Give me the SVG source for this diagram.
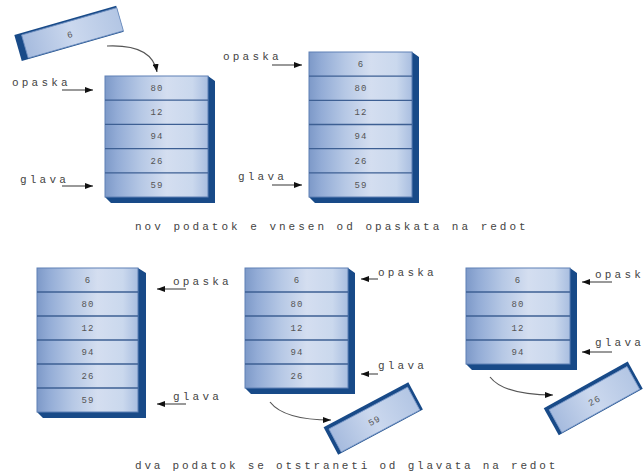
<svg xmlns="http://www.w3.org/2000/svg" width="644" height="472" viewBox="0 0 644 472">
<defs>
<linearGradient id="face" x1="0" y1="0" x2="1" y2="0">
<stop offset="0" stop-color="#7d99c8"/>
<stop offset="0.12" stop-color="#93acd6"/>
<stop offset="0.35" stop-color="#b6c8e5"/>
<stop offset="0.6" stop-color="#d4def0"/>
<stop offset="0.85" stop-color="#cad8ed"/>
<stop offset="1" stop-color="#a9bee0"/>
</linearGradient>
<linearGradient id="tray" x1="0" y1="0" x2="1" y2="0">
<stop offset="0" stop-color="#a6bbde"/>
<stop offset="0.5" stop-color="#cbd8ee"/>
<stop offset="1" stop-color="#b3c6e4"/>
</linearGradient>
<marker id="ah" viewBox="0 0 8 6" refX="8" refY="3" markerWidth="8" markerHeight="6" markerUnits="userSpaceOnUse" orient="auto">
<path d="M0,0 L8,3 L0,6 z" fill="#111"/>
</marker>
<style>
.dark{fill:#184a88}
.front{fill:url(#face);stroke:#5f80b5;stroke-width:1}
.sep{stroke:#3d5f93;stroke-width:1.3}
.num{font-family:"Liberation Mono",monospace;font-size:9px;letter-spacing:1px;fill:#555;text-anchor:middle}
.lbl{font-family:"Liberation Mono",monospace;font-size:11px;letter-spacing:3.2px;fill:#444}
.cap{font-family:"Liberation Mono",monospace;font-size:11px;letter-spacing:3px;fill:#444}
.ar{fill:none;stroke:#555;stroke-width:1.2;marker-end:url(#ah)}
.trim{fill:url(#tray)}
</style>
</defs>
<rect width="644" height="472" fill="#ffffff"/>

<!-- Stack A -->
<g id="stackA">
<polygon class="dark" points="208,76 215,81 215,203 111,203 105,197 208,197"/>
<rect class="front" x="105" y="76" width="103" height="121"/>
<line class="sep" x1="105" y1="100.2" x2="208" y2="100.2"/>
<line class="sep" x1="105" y1="124.4" x2="208" y2="124.4"/>
<line class="sep" x1="105" y1="148.6" x2="208" y2="148.6"/>
<line class="sep" x1="105" y1="172.8" x2="208" y2="172.8"/>
<text class="num" x="157" y="91">80</text>
<text class="num" x="157" y="115">12</text>
<text class="num" x="157" y="139">94</text>
<text class="num" x="157" y="164">26</text>
<text class="num" x="157" y="188">59</text>
</g>

<!-- Incoming tray -->
<g id="trayA" transform="translate(72,33) rotate(-16)">
<rect class="dark" x="-56" y="-14" width="106" height="27"/>
<rect class="trim" x="-49" y="-12" width="99" height="24" stroke="#6f8fc0" stroke-width="0.8"/>
<text class="num" x="-2" y="4">6</text>
</g>

<!-- Stack B -->
<g id="stackB">
<polygon class="dark" points="412,52 419,57 419,203 315,203 309,197 412,197"/>
<rect class="front" x="309" y="52" width="103" height="145"/>
<line class="sep" x1="309" y1="76.2" x2="412" y2="76.2"/>
<line class="sep" x1="309" y1="100.3" x2="412" y2="100.3"/>
<line class="sep" x1="309" y1="124.5" x2="412" y2="124.5"/>
<line class="sep" x1="309" y1="148.7" x2="412" y2="148.7"/>
<line class="sep" x1="309" y1="172.8" x2="412" y2="172.8"/>
<text class="num" x="361" y="67">6</text>
<text class="num" x="361" y="91">80</text>
<text class="num" x="361" y="115">12</text>
<text class="num" x="361" y="139">94</text>
<text class="num" x="361" y="164">26</text>
<text class="num" x="361" y="188">59</text>
</g>

<!-- Stack C -->
<g id="stackC">
<polygon class="dark" points="138,268 146,273 146,418 43,418 37,412 138,412"/>
<rect class="front" x="37" y="268" width="101" height="144"/>
<line class="sep" x1="37" y1="292" x2="138" y2="292"/>
<line class="sep" x1="37" y1="316" x2="138" y2="316"/>
<line class="sep" x1="37" y1="340" x2="138" y2="340"/>
<line class="sep" x1="37" y1="364" x2="138" y2="364"/>
<line class="sep" x1="37" y1="388" x2="138" y2="388"/>
<text class="num" x="88" y="283">6</text>
<text class="num" x="88" y="307">80</text>
<text class="num" x="88" y="331">12</text>
<text class="num" x="88" y="355">94</text>
<text class="num" x="88" y="379">26</text>
<text class="num" x="88" y="403">59</text>
</g>

<!-- Stack D -->
<g id="stackD">
<polygon class="dark" points="348,268 355,273 355,394 251,394 245,388 348,388"/>
<rect class="front" x="245" y="268" width="103" height="120"/>
<line class="sep" x1="245" y1="292" x2="348" y2="292"/>
<line class="sep" x1="245" y1="316" x2="348" y2="316"/>
<line class="sep" x1="245" y1="340" x2="348" y2="340"/>
<line class="sep" x1="245" y1="364" x2="348" y2="364"/>
<text class="num" x="297" y="283">6</text>
<text class="num" x="297" y="307">80</text>
<text class="num" x="297" y="331">12</text>
<text class="num" x="297" y="355">94</text>
<text class="num" x="297" y="379">26</text>
</g>

<!-- Removed tray D -->
<g id="trayD" transform="translate(373,418) rotate(-28)">
<rect class="dark" x="-48" y="-15" width="96" height="31"/>
<rect class="trim" x="-44" y="-11" width="89" height="26" stroke="#7f9ccb" stroke-width="0.8"/>
<text class="num" x="0" y="6">59</text>
</g>

<!-- Stack E -->
<g id="stackE">
<polygon class="dark" points="570,268 577,273 577,370 472,370 466,364 570,364"/>
<rect class="front" x="466" y="268" width="104" height="96"/>
<line class="sep" x1="466" y1="292" x2="570" y2="292"/>
<line class="sep" x1="466" y1="316" x2="570" y2="316"/>
<line class="sep" x1="466" y1="340" x2="570" y2="340"/>
<text class="num" x="518" y="283">6</text>
<text class="num" x="518" y="307">80</text>
<text class="num" x="518" y="331">12</text>
<text class="num" x="518" y="355">94</text>
</g>

<!-- Removed tray E -->
<g id="trayE" transform="translate(593,398) rotate(-29)">
<rect class="dark" x="-48" y="-15" width="96" height="31"/>
<rect class="trim" x="-44" y="-11" width="89" height="26" stroke="#7f9ccb" stroke-width="0.8"/>
<text class="num" x="0" y="6">26</text>
</g>

<!-- Labels -->
<g id="labels">
<text class="lbl" x="12" y="86">opaska</text>
<text class="lbl" x="20" y="183">glava</text>
<text class="lbl" x="223" y="60">opaska</text>
<text class="lbl" x="238" y="180">glava</text>
<text class="lbl" x="173" y="285">opaska</text>
<text class="lbl" x="173" y="400">glava</text>
<text class="lbl" x="378" y="276">opaska</text>
<text class="lbl" x="378" y="369">glava</text>
<text class="lbl" x="595" y="278">opaska</text>
<text class="lbl" x="595" y="346">glava</text>
</g>

<!-- Connectors -->
<g id="connectors">
<path class="ar" d="M107,46 Q152,44 157,72"/>
<path class="ar" d="M62,90 L93,90"/>
<path class="ar" d="M62,186 L93,186"/>
<path class="ar" d="M272,65 L302,65"/>
<path class="ar" d="M272,185 L302,185"/>
<path class="ar" d="M186,289 L157,289"/>
<path class="ar" d="M186,404 L157,404"/>
<path class="ar" d="M378,279 L361,279"/>
<path class="ar" d="M378,374 L361,374"/>
<path class="ar" d="M612,282 L582,282"/>
<path class="ar" d="M612,352 L582,352"/>
<path class="ar" d="M270,402 Q284,420 331,420"/>
<path class="ar" d="M490,377 Q504,395 553,395"/>
</g>

<!-- Captions -->
<text class="cap" x="135" y="230">nov podatok e vnesen od opaskata na redot</text>
<text class="cap" x="135" y="469" style="letter-spacing:2.8px">dva podatok se otstraneti od glavata na redot</text>
</svg>
